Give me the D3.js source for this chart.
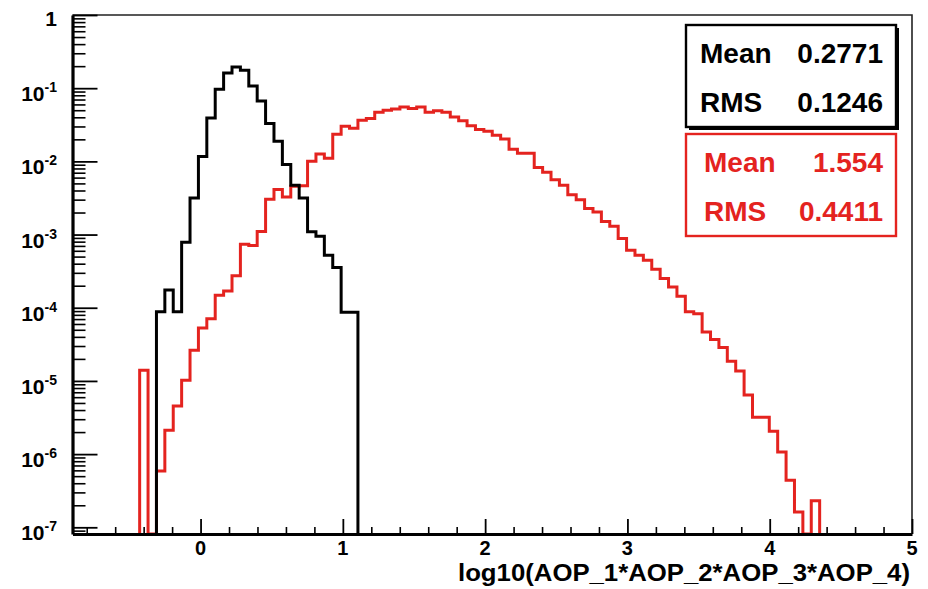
<!DOCTYPE html>
<html lang="en">
<head>
<meta charset="utf-8">
<title>log10(AOP) histogram</title>
<style>
body{
  margin: 0;
  background: #fff;
}
svg text{
  font-family: "Liberation Sans", Arial, sans-serif;
  font-weight: bold;
}
.axis path, .axis line{
  fill: none;
  stroke: #000;
}
</style>
</head>
<body>
<div id="chart"></div>
<script src="https://d3js.org/d3.v7.min.js"></script>
<script>
// histogram binning: 100 bins on [-0.9, 5]
var xMin = -0.9, xMax = 5, binWidth = 0.059;

// black histogram, bins 10..33
var blackFirstBin = 10;
var blackValues = [8.8e-5, 1.75e-4, 8.8e-5, 7.85e-4, 3.16e-3, 1.17e-2, 3.9e-2, 9.66e-2,
  0.161, 0.195, 0.176, 0.107, 0.0668, 0.0328, 0.0188, 0.00904, 0.00471, 0.00316,
  0.00109, 9.5e-4, 5.2e-4, 3.54e-4, 8.7e-5, 8.7e-5];

// red histogram, bins 8..88
var redFirstBin = 8;
var redValues = [1.4e-5, 0, 5.9e-7, 2.12e-6, 4.56e-6, 1.02e-5, 2.63e-5, 5.3e-5, 7.1e-5,
  1.48e-4, 1.7e-4, 2.74e-4, 7.4e-4, 7.1e-4, 1.1e-3, 3.03e-3, 4.12e-3, 3.26e-3, 4.57e-3,
  4.64e-3, 1.0e-2, 1.26e-2, 1.10e-2, 2.35e-2, 3.02e-2, 2.83e-2, 3.64e-2, 3.85e-2,
  4.69e-2, 4.99e-2, 5.2e-2, 5.54e-2, 5.26e-2, 5.54e-2, 4.69e-2, 4.91e-2, 4.69e-2,
  4.04e-2, 3.59e-2, 3.06e-2, 2.73e-2, 2.58e-2, 2.27e-2, 2.02e-2, 1.46e-2, 1.29e-2,
  1.29e-2, 8.22e-3, 7.1e-3, 5.61e-3, 4.72e-3, 3.5e-3, 2.98e-3, 2.27e-3, 2.04e-3,
  1.51e-3, 1.3e-3, 8.8e-4, 6.1e-4, 5.2e-4, 4.46e-4, 3.36e-4, 2.5e-4, 1.92e-4, 1.44e-4,
  8.8e-5, 8.3e-5, 4.67e-5, 3.68e-5, 2.86e-5, 1.86e-5, 1.37e-5, 6.4e-6, 3.2e-6, 3.2e-6,
  2.06e-6, 1.07e-6, 4.4e-7, 1.62e-7, 0, 2.3e-7];

var xTicks = [0, 1, 2, 3, 4, 5];
var yDecades = [0, -1, -2, -3, -4, -5, -6, -7];

var blackStats = [["Mean", "0.2771"], ["RMS", "0.1246"]];
var redStats = [["Mean", "1.554"], ["RMS", "0.4411"]];
var axisTitle = "log10(AOP_1*AOP_2*AOP_3*AOP_4)";

var red = "#e4231f";

var svg = d3.select("#chart").append("svg")
  .attr("width", 928)
  .attr("height", 589);

var frame = { left: 72.5, right: 912, top: 15, bottom: 534 };
var yLow = 8.1e-8;

var x = d3.scaleLinear().domain([xMin, xMax]).range([frame.left, frame.right]);
var y = d3.scaleLog().domain([yLow, 1]).range([frame.bottom, frame.top]);

svg.append("clipPath").attr("id", "clip")
  .append("rect")
  .attr("x", frame.left).attr("y", frame.top)
  .attr("width", frame.right - frame.left)
  .attr("height", frame.bottom - frame.top);

// top and right frame lines
svg.append("path")
  .attr("d", `M${frame.left},${frame.top}H${frame.right}V${frame.bottom}`)
  .attr("fill", "none")
  .attr("stroke", "#222")
  .attr("stroke-width", 1.6);

// step outline, empty bins sit on the bottom of the frame
function stepPoints(first, values) {
  var start = xMin + first * binWidth;
  var end = xMin + (first + values.length) * binWidth;
  var pts = [[x(start), y(yLow)]];
  values.forEach((v, i) => {
    var lo = start + i * binWidth;
    var yy = y(Math.max(v, yLow));
    pts.push([x(lo), yy], [x(lo + binWidth), yy]);
  });
  pts.push([x(end), y(yLow)]);
  return pts;
}

var line = d3.line();
var hist = svg.append("g").attr("clip-path", "url(#clip)");

hist.append("path")
  .attr("d", line(stepPoints(redFirstBin, redValues)))
  .attr("fill", "none")
  .attr("stroke", red)
  .attr("stroke-width", 3);

hist.append("path")
  .attr("d", line(stepPoints(blackFirstBin, blackValues)))
  .attr("fill", "none")
  .attr("stroke", "#000")
  .attr("stroke-width", 3);

// x axis, ticks pointing into the frame
var xMinor = d3.range(-4, 25).map((d) => d * 0.2)
  .filter((d) => Math.abs(d - Math.round(d)) > 1e-6 && d > xMin);
var xAxisMinor = svg.append("g").attr("class", "axis")
  .attr("transform", `translate(0, ${frame.bottom})`)
  .call(d3.axisBottom(x).tickValues(xMinor).tickSize(-7).tickSizeOuter(0).tickFormat(""));
xAxisMinor.select(".domain").remove();
xAxisMinor.selectAll("line").attr("stroke-width", 1.6);

var xAxis = svg.append("g").attr("class", "axis")
  .attr("transform", `translate(0, ${frame.bottom})`)
  .call(d3.axisBottom(x).tickValues(xTicks).tickSize(-15).tickSizeOuter(0).tickFormat(""));
xAxis.select(".domain").attr("stroke-width", 3.2);
xAxis.selectAll("line").attr("stroke-width", 1.8);

svg.append("g").selectAll("text").data(xTicks)
  .enter().append("text")
  .attr("x", (d) => x(d))
  .attr("y", 555)
  .attr("text-anchor", "middle")
  .attr("font-size", 20)
  .text((d) => d);

// y axis, log ticks
var yMinor = [];
yDecades.concat([-8]).forEach((e) => {
  for (var m = 2; m <= 9; m++) {
    var v = m * Math.pow(10, e);
    if (v > yLow && v < 1) yMinor.push(v);
  }
});
var yAxisMinor = svg.append("g").attr("class", "axis")
  .attr("transform", `translate(${frame.left}, 0)`)
  .call(d3.axisLeft(y).tickValues(yMinor).tickSize(-13).tickSizeOuter(0).tickFormat(""));
yAxisMinor.select(".domain").remove();
yAxisMinor.selectAll("line").attr("stroke-width", 1.6);

var yAxis = svg.append("g").attr("class", "axis")
  .attr("transform", `translate(${frame.left}, 0)`)
  .call(d3.axisLeft(y).tickValues(yDecades.map((e) => Math.pow(10, e)))
    .tickSize(-25).tickSizeOuter(0).tickFormat(""));
yAxis.select(".domain").attr("stroke-width", 3.2);
yAxis.selectAll("line").attr("stroke-width", 1.8);

yDecades.forEach((e) => {
  var ty = y(Math.pow(10, e));
  var t = svg.append("text")
    .attr("x", 57)
    .attr("text-anchor", "end")
    .attr("font-size", 21);
  if (e === 0) {
    t.attr("y", ty + 11).text("1");
  } else {
    t.attr("y", ty + 13);
    t.append("tspan").text("10");
    t.append("tspan").attr("dy", -9).attr("font-size", 14).text(e);
  }
});

svg.append("text")
  .attr("x", 910)
  .attr("y", 581)
  .attr("text-anchor", "end")
  .attr("font-size", 23)
  .attr("textLength", 452)
  .attr("lengthAdjust", "spacingAndGlyphs")
  .text(axisTitle);

// stats boxes
function statsBox(top, color, rows, shadow) {
  var g = svg.append("g");
  var bx = 686, bw = 210, bh = 102;
  if (shadow) {
    g.append("rect")
      .attr("x", bx + 3).attr("y", top + 3)
      .attr("width", bw).attr("height", bh)
      .attr("fill", "#000");
  }
  g.append("rect")
    .attr("x", bx).attr("y", top)
    .attr("width", bw).attr("height", bh)
    .attr("fill", "#fff")
    .attr("stroke", color)
    .attr("stroke-width", 2.4);
  rows.forEach((r, i) => {
    var by = top + 38 + i * 49;
    g.append("text").attr("x", shadow ? 700 : 704).attr("y", by)
      .attr("font-size", 28).attr("fill", color).text(r[0]);
    g.append("text").attr("x", 883).attr("y", by)
      .attr("text-anchor", "end")
      .attr("font-size", 28).attr("fill", color).text(r[1]);
  });
}
statsBox(25, "#000", blackStats, true);
statsBox(134, red, redStats, false);
</script>
</body>
</html>
